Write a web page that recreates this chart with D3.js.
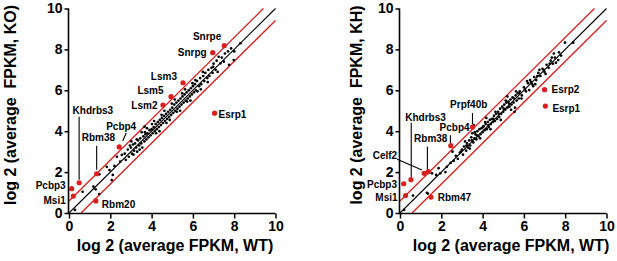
<!DOCTYPE html>
<html><head><meta charset="utf-8">
<script src="https://cdn.jsdelivr.net/npm/d3@7"></script>
<style>
html,body{margin:0;padding:0;background:#fff;}
text{font-family:"Liberation Sans",Arial,sans-serif;font-weight:bold;}
</style></head>
<body><svg id="c" width="617" height="261"></svg>
<script>
// ---------- DATA ----------
const axisTicks = [0, 2, 4, 6, 8, 10];
const xTitle = "log 2 (average FPKM, WT)";
const yTitleKO = "log 2 (average  FPKM, KO)";
const yTitleKH = "log 2 (average  FPKM, KH)";
const foldLog2 = 0.585;   // 1.5-fold boundary lines

const koBlack = [[0.29,0.15],[0.66,1.04],[1.18,1.29],[1.29,1.16],[1.46,0.93],[1.47,1.89],[1.83,2.26],[1.96,2.1],[2.12,1.86],[2.07,1.61],[2.32,2.75],[2.48,2.51],[2.56,2.84],[2.2,2.3],[2.7,2.9],[2.75,2.6],[2.85,3.1],[2.9,2.75],[3.0,3.2],[3.05,2.9],[3.1,3.35],[3.15,3.05],[3.2,3.4],[3.25,3.2],[3.3,3.0],[3.35,3.55],[3.4,3.3],[3.45,3.65],[3.5,3.4],[3.55,3.2],[3.6,3.75],[3.66,4.22],[3.65,3.5],[3.7,3.85],[3.75,3.6],[3.8,3.9],[3.85,3.7],[3.9,4.05],[3.95,3.8],[4.0,4.1],[4.05,3.9],[4.1,4.2],[4.15,4.0],[4.2,4.35],[4.25,4.1],[4.3,4.45],[4.35,4.2],[4.4,4.55],[4.45,4.3],[4.5,4.65],[4.55,4.4],[4.6,4.75],[4.65,4.5],[4.7,4.85],[4.75,4.6],[4.8,4.95],[4.85,4.7],[4.9,5.05],[4.95,4.8],[5.0,5.15],[5.05,4.9],[5.1,5.3],[5.15,5.0],[5.2,5.4],[5.25,5.1],[5.3,5.5],[5.35,5.2],[5.4,5.6],[5.45,5.3],[5.5,5.7],[5.55,5.4],[5.6,5.8],[5.65,5.5],[5.7,5.9],[5.75,5.6],[5.8,6.0],[5.85,5.7],[5.9,6.1],[5.95,5.8],[6.0,6.2],[6.05,5.9],[6.1,6.3],[6.15,6.0],[6.2,6.45],[6.3,6.2],[6.35,6.6],[6.4,6.3],[6.5,6.7],[6.55,6.45],[6.6,6.85],[6.7,6.6],[6.75,7.0],[6.8,6.7],[6.9,7.1],[6.95,6.85],[7.0,7.3],[7.1,7.0],[7.15,7.45],[7.25,7.64],[7.33,7.32],[7.4,7.6],[7.5,7.4],[7.55,7.8],[7.75,7.25],[7.98,7.48],[8.0,7.9],[8.3,8.3],[7.7,7.9],[7.85,8.05],
[3.02,3.5],[3.28,3.6],[3.52,3.95],[3.78,4.15],[4.02,4.35],[4.22,3.9],[4.48,4.8],[4.72,4.4],[4.98,5.35],[5.22,4.95],[5.48,5.85],[5.72,5.45],[5.98,6.35],[6.22,5.95],[6.48,6.9],[6.72,6.4],[6.98,7.15],[7.2,6.9],[4.12,4.5],[4.38,4.0],[4.62,5.0],[4.88,4.55],[5.12,5.55],[5.38,5.0],[5.62,6.05],[5.88,5.5],[6.12,6.5],[6.38,6.05],[2.95,3.3],[3.12,2.85],[3.42,3.1],[3.68,3.95]];

const khBlack = [[0.2,0.15],[0.63,0.85],[1.3,0.99],[1.35,0.95],[1.55,1.94],[1.75,1.86],[1.87,2.19],[1.95,1.94],[2.2,2.0],[2.27,2.26],[2.54,3.0],[2.45,2.45],[2.6,2.55],[2.7,2.8],[2.8,2.65],[2.9,2.95],[3.0,3.1],[3.05,2.85],[3.1,3.25],[3.2,3.05],[3.25,3.4],[3.3,3.2],[3.35,3.55],[3.4,3.3],[3.45,3.7],[3.5,3.9],[3.55,3.45],[3.6,3.65],[3.65,3.85],[3.7,3.6],[3.75,4.0],[3.8,3.75],[3.85,4.1],[3.9,3.85],[3.95,4.15],[4.0,3.95],[4.05,4.25],[4.1,4.05],[4.15,4.35],[4.2,4.1],[4.25,4.45],[4.3,4.2],[4.35,4.55],[4.4,4.35],[4.45,4.6],[4.5,4.45],[4.55,4.75],[4.6,4.5],[4.65,4.85],[4.7,4.6],[4.75,4.95],[4.8,4.7],[4.85,5.1],[4.9,4.85],[4.95,5.2],[5.0,4.95],[5.05,5.3],[5.1,5.05],[5.15,5.4],[5.2,5.15],[5.25,5.45],[5.3,5.2],[5.35,5.55],[5.4,5.3],[5.45,5.65],[5.5,5.4],[5.57,5.15],[5.6,5.75],[5.65,5.5],[5.7,5.85],[5.75,5.6],[5.8,5.95],[5.9,5.75],[6.0,6.15],[6.1,5.95],[6.2,6.35],[6.26,6.01],[6.3,6.5],[6.4,6.3],[6.5,6.65],[6.6,6.5],[6.7,6.85],[6.8,6.7],[6.9,7.05],[7.0,6.9],[7.1,7.25],[7.2,7.1],[7.3,7.45],[7.4,7.3],[7.5,7.6],[7.55,7.35],[7.66,7.48],[7.8,7.7],[7.99,8.33],[8.39,8.33],[7.7,7.85],
[3.15,3.5],[3.38,3.15],[3.62,3.95],[3.88,3.65],[4.12,4.45],[4.38,4.1],[4.62,4.95],[4.88,4.55],[5.12,5.5],[5.38,5.05],[5.62,5.95],[5.88,5.6],[6.15,6.45],[6.45,6.2],[6.75,7.0],[7.05,6.8],[7.35,7.6],[4.02,4.2],[4.28,4.3],[4.52,4.6],[4.78,4.85],[5.02,5.1],[5.28,5.35],[5.52,5.6],[5.78,5.85],[6.05,6.05],[6.35,6.4],[6.65,6.7],[6.95,7.0],[7.25,7.3],[3.72,3.8],[3.48,3.55],[3.22,3.3],[2.95,3.0],[3.58,4.3],[4.18,4.65],[5.2,5.7],[5.55,4.95],[6.55,6.3],[7.45,7.8]];

const koRedNames = ["Snrpe","Snrpg","Lsm3","Lsm5","Lsm2","Esrp1","Pcbp4","Rbm38","Khdrbs3","Pcbp3","Msi1","Rbm20"];
const koRedX     = [7.52, 6.96, 5.52, 4.94, 4.55, 7.05, 2.43, 1.34, 0.49, 0.13, 0.21, 1.30];
const koRedY     = [8.18, 7.84, 6.37, 5.69, 5.28, 4.88, 3.23, 1.92, 1.48, 1.19, 0.83, 0.59];

const khRedNames = ["Esrp2","Esrp1","Prpf40b","Pcbp4","Khdrbs3","Rbm38","Celf2","Pcbp3","Msi1","Rbm47"];
const khRedX     = [7.00, 7.04, 3.51, 2.46, 0.53, 1.37, 1.17, 0.18, 0.27, 1.50];
const khRedY     = [6.03, 5.23, 4.20, 3.29, 1.63, 2.02, 1.94, 1.43, 0.85, 0.78];

// ---------- LAYOUT (label placement, px offsets from the point) ----------
// [anchor, dx, dy(center), leader: [x1,y1,x2,y2] offsets or null]
const koLabelLayout = {
  Snrpe:["end",-3,-9,null], Snrpg:["end",-6,0,null], Lsm3:["end",-6,-6,null],
  Lsm5:["end",-7.5,-6,null], Lsm2:["end",-5.5,0,null], Esrp1:["start",4,1,null],
  Pcbp4:["start",-13,-21,[7,-14,3.5,-6]], Rbm38:["start",-15,-36,[0,-28,0,-4]],
  Khdrbs3:["start",-6.5,-72.5,[0,-66,0,-3]], Pcbp3:["end",-6,-3.4,null],
  Msi1:["end",-7.6,4,null], Rbm20:["start",6,3,null]
};
const khLabelLayout = {
  Esrp2:["start",7,0,null], Esrp1:["start",7,2,null],
  Prpf40b:["start",-22.4,-23,[0,-14,0,-3]], Pcbp4:["end",18.8,-18.7,[-0.4,-10.5,-0.4,-2.7]],
  Khdrbs3:["start",-5.7,-62.4,[0.3,-57,0.3,-2.7]], Rbm38:["start",-14.2,-33.7,[-0.9,-25,-0.9,-2.4]],
  Celf2:["end",-27,-17.6,[-27,-14,-2.2,-3.3]], Pcbp3:["end",-6.7,0.8,null],
  Msi1:["end",-8,1.7,null], Rbm47:["start",6.7,0.7,null]
};

const RED = "#d7201f";
const svg = d3.select("#c");

function panel(opt){
  const x = d3.scaleLinear().domain([0,10]).range([opt.x0, opt.x0 + 206.5]);
  const y = d3.scaleLinear().domain([0,10]).range([213, 8.5]);
  const g = svg.append("g");

  // boundary lines
  const lines = [
    {p:[[0,0],[10,10]], c:"#000", w:1.1},
    {p:[[0,foldLog2],[10-foldLog2,10]], c:RED, w:1.3},
    {p:[[foldLog2,0],[10,10-foldLog2]], c:RED, w:1.3}
  ];
  g.selectAll("line.ref").data(lines).join("line").attr("class","ref")
    .attr("x1",d=>x(d.p[0][0])).attr("y1",d=>y(d.p[0][1]))
    .attr("x2",d=>x(d.p[1][0])).attr("y2",d=>y(d.p[1][1]))
    .attr("stroke",d=>d.c).attr("stroke-width",d=>d.w);

  // black points
  g.selectAll("circle.b").data(opt.black).join("circle").attr("class","b")
    .attr("cx",d=>x(d[0])).attr("cy",d=>y(d[1])).attr("r",1.35).attr("fill","#000");

  // red points
  const red = opt.names.map((n,i)=>({n, x:opt.rx[i], y:opt.ry[i]}));
  g.selectAll("circle.r").data(red).join("circle").attr("class","r")
    .attr("cx",d=>x(d.x)).attr("cy",d=>y(d.y)).attr("r",2.6).attr("fill",RED);

  // labels + leaders
  red.forEach(d=>{
    const L = opt.layout[d.n]; if(!L) return;
    const px = x(d.x), py = y(d.y);
    g.append("text").attr("x",px+L[1]).attr("y",py+L[2]).attr("dy","0.36em")
      .attr("text-anchor",L[0]).attr("font-size",10).attr("fill","#000").text(d.n);
    if(L[3]){
      g.append("line").attr("x1",px+L[3][0]).attr("y1",py+L[3][1])
        .attr("x2",px+L[3][2]).attr("y2",py+L[3][3])
        .attr("stroke","#000").attr("stroke-width",1.1);
    }
  });

  // axes
  const ax = g.append("g").attr("transform",`translate(0,${y(0)+0.5})`)
    .call(d3.axisBottom(x).tickValues(axisTicks).tickSize(5).tickPadding(3));
  const ay = g.append("g").attr("transform",`translate(${x(0)-0.5},0)`)
    .call(d3.axisLeft(y).tickValues(axisTicks).tickSize(4).tickPadding(2));
  [ax,ay].forEach(a=>{
    a.select(".domain").attr("stroke","#000").attr("stroke-width",1.6);
    a.selectAll(".tick line").attr("stroke","#000").attr("stroke-width",1.5);
    a.selectAll(".tick text").attr("font-size",14).attr("fill","#000")
      .style("font-family","'Liberation Sans',Arial,sans-serif").style("font-weight","bold");
  });
  ax.select(".domain").attr("d",`M${x(0)-1},0H${x(10)}`);
  ay.select(".domain").attr("d",`M0,${y(0)+1}V${y(10)}`);

  // titles
  g.append("text").attr("x",opt.xtx).attr("y",251).attr("text-anchor","middle")
    .attr("font-size",16).text(xTitle);
  g.append("text").attr("transform",`translate(${opt.ytx},105) rotate(-90)`)
    .attr("text-anchor","middle").attr("dy","0.36em").attr("font-size",16)
    .style("white-space","pre").text(opt.ytitle);
}

panel({x0:69, black:koBlack, names:koRedNames, rx:koRedX, ry:koRedY, layout:koLabelLayout,
       xtx:175, ytx:10.5, ytitle:yTitleKO});
panel({x0:400, black:khBlack, names:khRedNames, rx:khRedX, ry:khRedY, layout:khLabelLayout,
       xtx:511, ytx:356, ytitle:yTitleKH});
</script></body></html>
